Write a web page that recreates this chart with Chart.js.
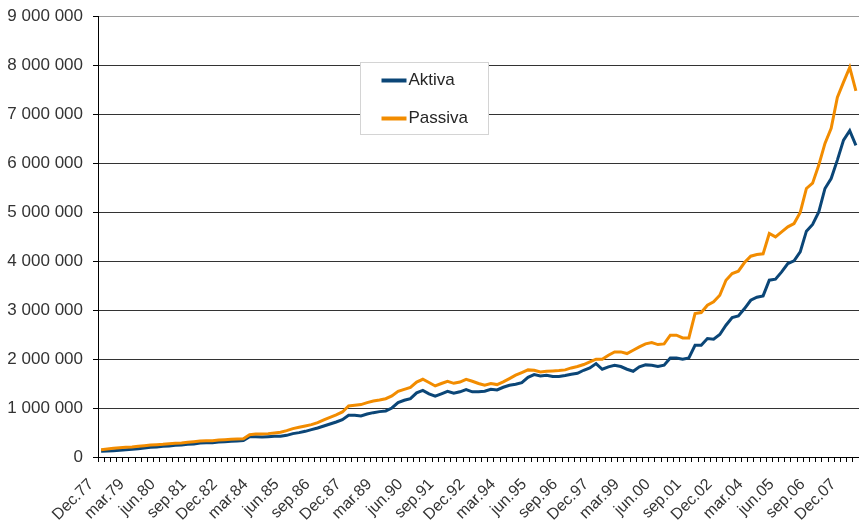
<!DOCTYPE html>
<html>
<head>
<meta charset="utf-8">
<title>Aktiva og Passiva</title>
<script src="https://cdn.jsdelivr.net/npm/chart.js@4.4.1/dist/chart.umd.min.js"></script>
<style>
  html, body { margin: 0; padding: 0; background: #ffffff; overflow: hidden; }
  #wrap { width: 859px; height: 529px; }
</style>
</head>
<body>
<div id="wrap"><canvas id="chart" width="859" height="529"></canvas></div>
<script>
// Quarter names and first quarter of the series (Dec.77 .. jun.08)
const quarterNames = ['Dec', 'mar', 'jun', 'sep'];
const firstYear = 1977;
const quarterCount = 123;

// Every fifth quarter gets a printed label
const labelStep = 5;

// Y axis ticks
const yTicks = [0, 1000000, 2000000, 3000000, 4000000, 5000000, 6000000, 7000000, 8000000, 9000000];

// Aktiva, quarterly
const aktiva = [
  115000, 122000, 130000, 137000, 150000, 157000, 170000, 184000, 197000, 204000,
  218000, 225000, 238000, 245000, 259000, 265000, 286000, 293000, 293000, 306000,
  313000, 320000, 327000, 334000, 415000, 415000, 408000, 415000, 422000, 422000,
  442000, 477000, 497000, 524000, 558000, 592000, 633000, 674000, 715000, 762000,
  851000, 851000, 837000, 878000, 905000, 926000, 940000, 1000000, 1110000, 1157000,
  1190000, 1310000, 1360000, 1290000, 1240000, 1290000, 1340000, 1300000, 1330000, 1375000,
  1330000, 1330000, 1342000, 1383000, 1369000, 1423000, 1464000, 1485000, 1518000, 1627000,
  1682000, 1655000, 1668000, 1641000, 1641000, 1662000, 1689000, 1709000, 1770000, 1818000,
  1906000, 1791000, 1839000, 1873000, 1846000, 1791000, 1750000, 1839000, 1880000, 1873000,
  1846000, 1873000, 2022000, 2022000, 1995000, 2022000, 2281000, 2281000, 2417000, 2403000,
  2499000, 2689000, 2846000, 2880000, 3029000, 3199000, 3261000, 3288000, 3608000, 3628000,
  3778000, 3948000, 4003000, 4187000, 4609000, 4745000, 5003000, 5480000, 5684000, 6059000,
  6467000, 6660000, 6360000
];

// Passiva, quarterly
const passiva = [
  150000, 163000, 177000, 190000, 197000, 204000, 218000, 231000, 245000, 252000,
  259000, 272000, 279000, 286000, 300000, 313000, 327000, 334000, 334000, 347000,
  354000, 361000, 368000, 374000, 456000, 470000, 470000, 477000, 490000, 504000,
  538000, 579000, 606000, 633000, 660000, 701000, 756000, 810000, 858000, 919000,
  1040000, 1055000, 1070000, 1110000, 1144000, 1164000, 1190000, 1245000, 1340000, 1380000,
  1420000, 1530000, 1586000, 1520000, 1450000, 1500000, 1545000, 1504000, 1530000, 1586000,
  1545000, 1500000, 1464000, 1498000, 1478000, 1532000, 1600000, 1669000, 1723000, 1778000,
  1771000, 1737000, 1750000, 1757000, 1764000, 1778000, 1818000, 1846000, 1887000, 1941000,
  1995000, 1995000, 2077000, 2145000, 2145000, 2111000, 2179000, 2247000, 2308000, 2335000,
  2294000, 2308000, 2485000, 2485000, 2430000, 2430000, 2927000, 2948000, 3098000, 3166000,
  3302000, 3608000, 3744000, 3792000, 3969000, 4098000, 4132000, 4146000, 4561000, 4493000,
  4595000, 4697000, 4765000, 4990000, 5480000, 5589000, 5957000, 6399000, 6706000, 7340000,
  7650000, 7950000, 7470000
];

// Quarter labels: Dec.77, mar.78, jun.78, sep.78, Dec.78, ...
const categories = [];
for (let i = 0; i < quarterCount; i++) {
  const q = i % 4;
  const year = firstYear + Math.floor((i + 3) / 4);
  categories.push(quarterNames[q] + '.' + String(year % 100).padStart(2, '0'));
}

const FONT = "'Liberation Sans', Arial, sans-serif";

function spaced(v) {
  return String(v).replace(/\B(?=(\d{3})+(?!\d))/g, ' ');
}

// Boxed legend sitting inside the plot area
const boxLegend = {
  id: 'boxLegend',
  afterDatasetsDraw(chart) {
    const ctx = chart.ctx;
    const x = 360.5, y = 62.5, w = 128, h = 72;
    ctx.save();
    ctx.fillStyle = '#ffffff';
    ctx.strokeStyle = '#d4d4d4';
    ctx.lineWidth = 1;
    ctx.fillRect(x, y, w, h);
    ctx.strokeRect(x, y, w, h);
    ctx.font = '17px ' + FONT;
    ctx.textBaseline = 'middle';
    ctx.textAlign = 'left';
    chart.data.datasets.forEach((ds, i) => {
      const ly = y + 18 + i * 38;
      ctx.strokeStyle = ds.borderColor;
      ctx.lineWidth = 4;
      ctx.beginPath();
      ctx.moveTo(x + 21, ly);
      ctx.lineTo(x + 46, ly);
      ctx.stroke();
      ctx.fillStyle = '#262626';
      ctx.fillText(ds.label, x + 48, ly);
    });
    ctx.restore();
  }
};

new Chart(document.getElementById('chart'), {
  type: 'line',
  data: {
    labels: categories,
    datasets: [
      {
        label: 'Aktiva',
        data: aktiva,
        borderColor: '#0b4677',
        borderWidth: 3,
        pointRadius: 0,
        tension: 0,
        order: 1
      },
      {
        label: 'Passiva',
        data: passiva,
        borderColor: '#f28c00',
        borderWidth: 3,
        pointRadius: 0,
        tension: 0,
        order: 0
      }
    ]
  },
  options: {
    responsive: false,
    devicePixelRatio: 1,
    animation: false,
    layout: { padding: { left: 0, top: 16, right: 0, bottom: 0 } },
    plugins: {
      legend: { display: false },
      tooltip: { enabled: false }
    },
    scales: {
      x: {
        type: 'category',
        offset: true,
        grid: {
          offset: true,
          drawOnChartArea: false,
          drawTicks: true,
          tickLength: 5,
          color: '#000000'
        },
        border: { display: true, color: '#000000', width: 1 },
        ticks: {
          autoSkip: false,
          minRotation: 45,
          maxRotation: 45,
          padding: 13,
          labelOffset: -10,
          color: '#333333',
          font: { family: FONT, size: 16 },
          callback: (v, i) => (i % labelStep === 0 ? categories[i] : '')
        },
        afterFit: (s) => { s.height = 72; s.paddingLeft = 0; s.paddingRight = 0; }
      },
      y: {
        min: 0,
        max: 9000000,
        afterBuildTicks: (s) => { s.ticks = yTicks.map(v => ({ value: v })); },
        grid: {
          color: (c) => (c.tick && c.tick.value === 9000000 ? '#9a9a9a' : '#333333'),
          lineWidth: 1,
          drawTicks: true,
          tickLength: 5,
          tickColor: '#000000'
        },
        border: { display: true, color: '#000000', width: 1 },
        ticks: {
          padding: 10,
          color: '#333333',
          font: { family: FONT, size: 17 },
          callback: (v) => spaced(v)
        },
        afterFit: (s) => { s.width = 98; s.paddingTop = 0; s.paddingBottom = 0; }
      }
    }
  },
  plugins: [boxLegend]
});
</script>
</body>
</html>
